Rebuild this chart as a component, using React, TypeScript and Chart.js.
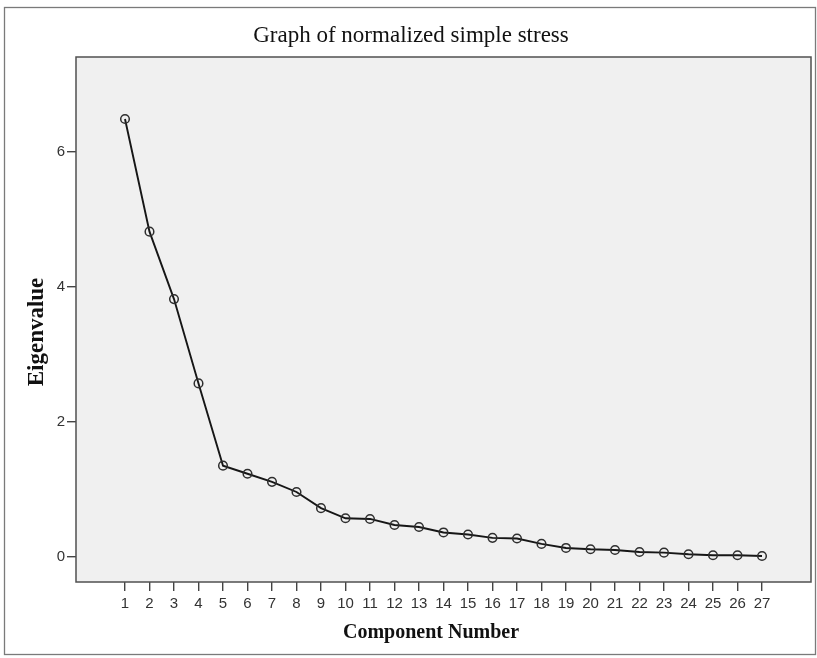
import { useEffect, useRef } from "react";
import { Chart, registerables } from "chart.js";

Chart.register(...registerables);

const components = [1, 2, 3, 4, 5, 6, 7, 8, 9, 10, 11, 12, 13, 14, 15, 16, 17, 18, 19, 20, 21, 22, 23, 24, 25, 26, 27];
const eigenvalues = [
  6.49, 4.82, 3.82, 2.57, 1.35, 1.23, 1.11, 0.96, 0.72, 0.57, 0.56, 0.47, 0.44, 0.36,
  0.33, 0.28, 0.27, 0.19, 0.13, 0.11, 0.1, 0.07, 0.06, 0.036, 0.021, 0.021, 0.01,
];
const yTickValues = [0, 2, 4, 6];
const chartTitle = "Graph of normalized simple stress";
const xAxisTitle = "Component Number";
const yAxisTitle = "Eigenvalue";

export default function App() {
  const ref = useRef<HTMLCanvasElement | null>(null);

  useEffect(() => {
    document.body.style.margin = "0";
    const canvas = ref.current;
    if (!canvas) return;

    const framePlugin = {
      id: "spssFrame",
      beforeDraw(chart: any) {
        const { ctx, chartArea } = chart;
        ctx.save();
        ctx.fillStyle = "#ffffff";
        ctx.fillRect(0, 0, chart.width, chart.height);
        // outer border
        ctx.strokeStyle = "#7a7a7a";
        ctx.lineWidth = 1.3;
        ctx.strokeRect(4.5, 7.5, 811, 647);
        // plot background
        ctx.fillStyle = "#f0f0f0";
        ctx.fillRect(chartArea.left, chartArea.top, chartArea.right - chartArea.left, chartArea.bottom - chartArea.top);
        ctx.restore();
      },
      afterDraw(chart: any) {
        const { ctx, chartArea } = chart;
        ctx.save();
        ctx.strokeStyle = "#505050";
        ctx.lineWidth = 1.5;
        ctx.strokeRect(chartArea.left, chartArea.top, chartArea.right - chartArea.left, chartArea.bottom - chartArea.top);

        ctx.fillStyle = "#111111";
        ctx.textAlign = "center";
        ctx.textBaseline = "alphabetic";
        ctx.font = "23px 'Liberation Serif', 'Times New Roman', serif";
        ctx.fillText(chartTitle, 411, 42);

        ctx.font = "bold 20px 'Liberation Serif', 'Times New Roman', serif";
        ctx.fillText(xAxisTitle, 431, 638);

        ctx.translate(43, 332);
        ctx.rotate(-Math.PI / 2);
        ctx.font = "bold 23px 'Liberation Serif', 'Times New Roman', serif";
        ctx.fillText(yAxisTitle, 0, 0);
        ctx.restore();
      },
    };

    const tickFont = { family: "'Liberation Sans', Arial, sans-serif", size: 15 };

    const chart = new Chart(canvas, {
      type: "line",
      data: {
        datasets: [
          {
            data: components.map((c, i) => ({ x: c, y: eigenvalues[i] })),
            borderColor: "#161616",
            borderWidth: 1.9,
            pointRadius: 4.3,
            pointBorderWidth: 1.5,
            pointBorderColor: "#2e2e2e",
            pointBackgroundColor: "rgba(0,0,0,0)",
            tension: 0,
            fill: false,
          },
        ],
      },
      options: {
        responsive: false,
        animation: false,
        layout: { padding: { top: 57, right: 6, left: 0, bottom: 0 } },
        plugins: {
          legend: { display: false },
          tooltip: { enabled: false },
          title: { display: false },
        },
        scales: {
          x: {
            type: "linear",
            min: -1,
            max: 29,
            afterBuildTicks: (s: any) => {
              s.ticks = components.map((v) => ({ value: v }));
            },
            afterFit: (s: any) => {
              s.height = 76;
            },
            grid: { drawOnChartArea: false, drawTicks: true, tickLength: 9, color: "#444444", lineWidth: 1.4 },
            border: { display: false },
            ticks: { font: tickFont, color: "#333333", padding: 4, maxRotation: 0, autoSkip: false },
          },
          y: {
            type: "linear",
            min: -0.375,
            max: 7.41,
            afterBuildTicks: (s: any) => {
              s.ticks = yTickValues.map((v) => ({ value: v }));
            },
            afterFit: (s: any) => {
              s.width = 76;
            },
            grid: { drawOnChartArea: false, drawTicks: true, tickLength: 9, color: "#444444", lineWidth: 1.4 },
            border: { display: false },
            ticks: { font: tickFont, color: "#333333", padding: 2 },
          },
        },
      },
      plugins: [framePlugin],
    } as any);

    return () => chart.destroy();
  }, []);

  return (
    <div style={{ position: "absolute", left: 0, top: 0, width: 817, height: 658 }}>
      <canvas ref={ref} width={817} height={658} style={{ display: "block", width: 817, height: 658 }} />
    </div>
  );
}
